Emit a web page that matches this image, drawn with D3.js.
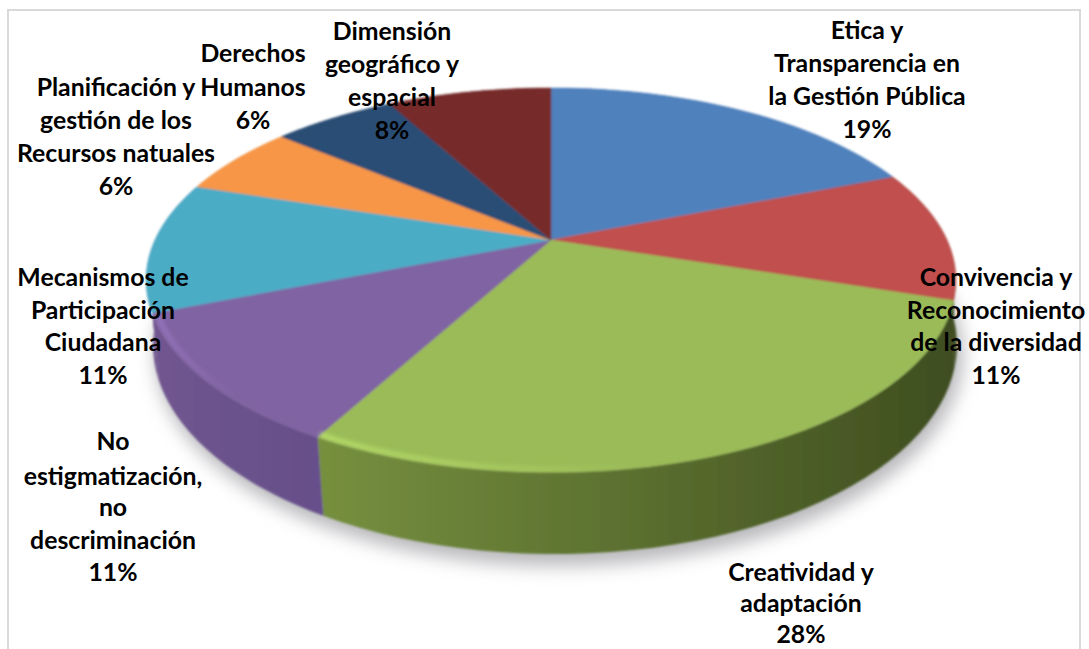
<!DOCTYPE html>
<html><head><meta charset="utf-8">
<script src="https://cdnjs.cloudflare.com/ajax/libs/d3/7.8.5/d3.min.js"></script>
<style>html,body{margin:0;padding:0;background:#fff;overflow:hidden}svg{display:block}
text{font-family:Lato,"Open Sans",sans-serif;font-weight:700;font-size:24.8px;fill:#000;text-anchor:middle;dominant-baseline:central}</style>
</head><body><svg id="c" width="1089" height="649"></svg>
<script>
// --- data ---
const categories = [
  "Etica y Transparencia en la Gestión Pública",
  "Convivencia y Reconocimiento de la diversidad",
  "Creatividad y adaptación",
  "No estigmatización, no descriminación",
  "Mecanismos de Participación Ciudadana",
  "Planificación y gestión de los Recursos natuales",
  "Derechos Humanos",
  "Dimensión geográfico y espacial"
];
const values = [19, 11, 28, 11, 11, 6, 6, 8];
const labelLines = [
  ["Etica y","Transparencia en","la Gestión Pública"],
  ["Convivencia y","Reconocimiento","de la diversidad"],
  ["Creatividad y","adaptación"],
  ["No","estigmatización,","no","descriminación"],
  ["Mecanismos de","Participación","Ciudadana"],
  ["Planificación y","gestión de los","Recursos natuales"],
  ["Derechos","Humanos"],
  ["Dimensión","geográfico y","espacial"]
];
// --- styling / layout (separate from data) ---
const topColors  = ["#4f81bd","#c0504d","#9bbb59","#8064a2","#4bacc6","#f79646","#2c4d75","#772c2a"];
const wallLeft   = ["#3c6595","#3f4e20","#76903f","#70558f","#70558f","#c2752f","#1f3a5c","#5a2120"];
const wallRight  = ["#3c6595","#3f4e20","#3f4e20","#66508a","#70558f","#c2752f","#1f3a5c","#5a2120"];
const labelPos = [
  {x:867,y:[29,62,95,128]},
  {x:996,y:[276,309,341,374]},
  {x:801,y:[571,602,633]},
  {x:113,y:[440,475,506,539,571]},
  {x:103,y:[276,309,341,374]},
  {x:116,y:[86,119,152,185]},
  {x:253,y:[52,86,119]},
  {x:392,y:[30,63,96,129]}
];
const W = 1089, H = 649;
const apex = {x:551, y:240}, k = -0.2083, a = 183.7, b = 396;
const topE = {cx:551, cy:280, rx:405, ry:192}, botE = {cx:555, cy:345, rx:402, ry:209};

// perspective projection of a pie angle onto the top rim
function rim(t, r=1){
  const u = Math.sin(t)*r, v = -Math.cos(t)*r, d = 1 + k*v;
  return [apex.x + b*u/d, apex.y + a*v/d];
}
function lower(p){
  return [botE.cx + (p[0]-topE.cx)*botE.rx/topE.rx, botE.cy + (p[1]-topE.cy)*botE.ry/topE.ry];
}
const svg = d3.select("#c");
const defs = svg.append("defs");
const blur = (id,s)=>defs.append("filter").attr("id",id).attr("x","-20%").attr("y","-20%").attr("width","140%").attr("height","140%")
  .append("feGaussianBlur").attr("stdDeviation",s);
blur("sh",9); blur("soft",0.9); blur("glow",2.2);

const arcs = d3.pie().sort(null).startAngle(0).endAngle(2*Math.PI)(values);
const line = d3.line();
const samples = d => d3.range(0,41).map(i => d.startAngle + (d.endAngle-d.startAngle)*i/40);

// chart frame
svg.append("rect").attr("x",8).attr("y",10).attr("width",1072).attr("height",660)
  .attr("fill","#fff").attr("stroke","#d9d9d9").attr("stroke-width",2);

// ground shadow
svg.append("ellipse").attr("cx",botE.cx+4).attr("cy",botE.cy+9).attr("rx",botE.rx+2).attr("ry",botE.ry+3)
  .attr("fill","#b9b9bd").attr("filter","url(#sh)");

// wall gradients
arcs.forEach((d,i)=>{
  const p0 = rim(d.startAngle), p1 = rim(d.endAngle);
  const g = defs.append("linearGradient").attr("id","w"+i).attr("gradientUnits","userSpaceOnUse")
    .attr("x1",Math.min(p0[0],p1[0])).attr("x2",Math.max(p0[0],p1[0])).attr("y1",0).attr("y2",0);
  g.append("stop").attr("offset",0).attr("stop-color",wallLeft[i]);
  g.append("stop").attr("offset",1).attr("stop-color",wallRight[i]);
  const h = defs.append("linearGradient").attr("id","h"+i).attr("gradientUnits","userSpaceOnUse")
    .attr("x1",Math.min(p0[0],p1[0])).attr("x2",Math.max(p0[0],p1[0])).attr("y1",0).attr("y2",0);
  h.append("stop").attr("offset",0).attr("stop-color",d3.color(topColors[i]).brighter(0.7));
  h.append("stop").attr("offset",0.5).attr("stop-color",topColors[i]);
});

// side walls
const g = svg.append("g").attr("filter","url(#soft)");
g.selectAll("path.wall").data(arcs).join("path").attr("class","wall")
  .attr("fill",(d,i)=>`url(#w${i})`)
  .attr("d",d=>{
    const up = samples(d).map(t=>rim(t));
    const lo = up.map(lower).reverse();
    return line(up.concat(lo))+"Z";
  });

// top face
g.selectAll("path.top").data(arcs).join("path").attr("class","top")
  .attr("fill",(d,i)=>topColors[i]).attr("stroke",(d,i)=>topColors[i]).attr("stroke-width",0.5)
  .attr("d",d=>line([[apex.x,apex.y]].concat(samples(d).map(t=>rim(t))))+"Z");

// bevel highlight along the front rim
svg.append("g").attr("filter","url(#glow)").selectAll("path").data([arcs[2],arcs[3]]).join("path")
  .attr("fill","none").attr("stroke-width",4)
  .attr("stroke",d=>`url(#h${d.index})`).attr("stroke-opacity",0.75)
  .attr("d",d=>line(samples(d).map(t=>rim(t,0.99))));

// labels
const lab = svg.append("g").selectAll("text").data(arcs).join("text")
  .attr("x",(d,i)=>labelPos[i].x);
lab.each(function(d,i){
  const lines = labelLines[i].concat([d3.format(".0f")(d.value/d3.sum(values)*100)+"%"]);
  d3.select(this).selectAll("tspan").data(lines).join("tspan")
    .attr("x",labelPos[i].x).attr("y",(s,j)=>labelPos[i].y[j]).text(s=>s);
});
</script></body></html>
